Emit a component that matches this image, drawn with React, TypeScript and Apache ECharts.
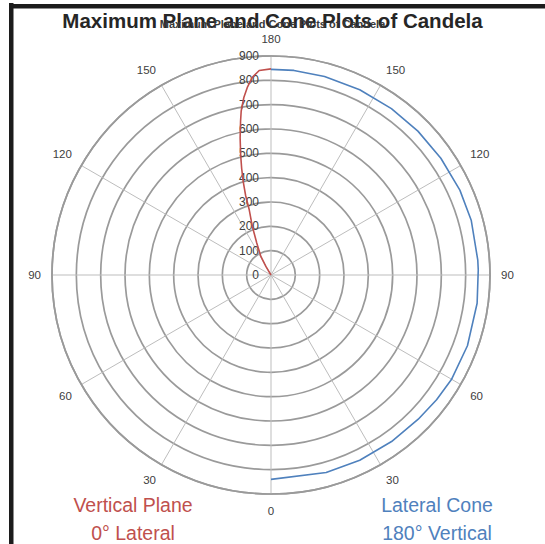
import React, { useEffect, useRef } from 'react';
import * as echarts from 'echarts';

const titleText = 'Maximum Plane and Cone Plots of Candela';
const radiusMax = 900;
const radiusStep = 100;
const angleStep = 30;

// Vertical Plane, 0° Lateral (left half): angle from nadir (deg), candela
const verticalPlaneAngles = [0, 30, 60, 90, 120, 145, 149, 151.4, 156, 159, 161.6, 162.3, 163.4, 164.6, 165.8, 167.3, 168.8, 169.7, 171.3, 172.8, 174.6, 176.7, 180];
const verticalPlaneCandela = [0, 0, 0, 0, 0, 0, 40, 87, 144, 215, 285, 343, 399, 454, 508, 577, 644, 685, 738, 777, 816, 842, 847];

// Lateral Cone, 180° Vertical (right half): angle (deg), candela
const lateralConeAngles = [0, 15.6, 25.6, 35.9, 45.6, 53, 59.9, 70.2, 82.2, 91.4, 94.1, 105.3, 114.2, 124.5, 134.4, 144.1, 154.4, 164.9, 173.6, 180];
const lateralConeCandela = [840, 843, 844, 845, 847, 852, 857, 858, 855, 852, 852, 853, 851, 847, 845, 844, 844, 845, 846, 845];

const legendLeft = ['Vertical Plane', '0° Lateral'];
const legendRight = ['Lateral Cone', '180° Vertical'];

const RED = '#c0504d';
const BLUE = '#4f81bd';
const FONT = '"Liberation Sans", Arial, sans-serif';

export default function App() {
  const ref = useRef<HTMLDivElement>(null);
  useEffect(() => {
    if (!ref.current) return;
    const chart = echarts.init(ref.current, undefined, { renderer: 'svg' });
    const redData = verticalPlaneAngles.map((a, i) => [verticalPlaneCandela[i], 180 - a]);
    const blueData = lateralConeAngles.map((a, i) => [lateralConeCandela[i], 180 + a]);
    chart.setOption({
      animation: false,
      backgroundColor: '#ffffff',
      textStyle: { fontFamily: FONT },
      title: [
        {
          text: titleText,
          left: 'center',
          top: 5,
          textStyle: { fontFamily: FONT, fontSize: 20.5, fontWeight: 'bold', color: '#262626' },
        },
        {
          text: titleText,
          left: 'center',
          top: 13,
          textStyle: { fontFamily: FONT, fontSize: 11, fontWeight: 'bold', color: '#3a3a3a' },
        },
      ],
      polar: { center: [271, 275], radius: 219 },
      angleAxis: {
        type: 'value',
        min: 0,
        max: 360,
        interval: angleStep,
        startAngle: 90,
        clockwise: false,
        axisLine: { show: true, lineStyle: { color: '#9a9a9a', width: 1.7 } },
        axisTick: { show: false },
        axisLabel: {
          show: true,
          margin: 11,
          fontSize: 11.5,
          color: '#404040',
          fontFamily: FONT,
          formatter: (v: number) => (v >= 360 ? '' : String(v <= 180 ? 180 - v : v - 180)),
        },
        splitLine: { show: true, lineStyle: { color: '#bdbdbd', width: 1 } },
      },
      radiusAxis: {
        type: 'value',
        min: 0,
        max: radiusMax,
        interval: radiusStep,
        axisLine: { show: false },
        axisTick: { show: false },
        axisLabel: { show: true, fontSize: 12, color: '#404040', fontFamily: FONT, margin: 12 },
        splitLine: { show: true, lineStyle: { color: '#9a9a9a', width: 1.7 } },
      },
      series: [
        {
          name: 'Vertical Plane',
          type: 'line',
          coordinateSystem: 'polar',
          data: redData,
          showSymbol: false,
          lineStyle: { color: RED, width: 1.6 },
          z: 5,
        },
        {
          name: 'Lateral Cone',
          type: 'line',
          coordinateSystem: 'polar',
          data: blueData,
          showSymbol: false,
          lineStyle: { color: BLUE, width: 1.6 },
          z: 5,
        },
      ],
      graphic: [
        { type: 'rect', shape: { x: 9, y: 3, width: 4.5, height: 541 }, style: { fill: '#1c1c1c' } },
        { type: 'rect', shape: { x: 9, y: 4, width: 536, height: 4.5 }, style: { fill: '#1c1c1c' } },
        { type: 'text', x: 133, y: 505, style: { text: legendLeft[0], fill: RED, font: `19.5px ${FONT}`, textAlign: 'center', textVerticalAlign: 'middle' } },
        { type: 'text', x: 133, y: 533, style: { text: legendLeft[1], fill: RED, font: `19.5px ${FONT}`, textAlign: 'center', textVerticalAlign: 'middle' } },
        { type: 'text', x: 437, y: 505, style: { text: legendRight[0], fill: BLUE, font: `19.5px ${FONT}`, textAlign: 'center', textVerticalAlign: 'middle' } },
        { type: 'text', x: 437, y: 533, style: { text: legendRight[1], fill: BLUE, font: `19.5px ${FONT}`, textAlign: 'center', textVerticalAlign: 'middle' } },
      ],
    });
    return () => chart.dispose();
  }, []);
  return <div ref={ref} style={{ position: 'absolute', left: 0, top: 0, width: 545, height: 544 }} />;
}
